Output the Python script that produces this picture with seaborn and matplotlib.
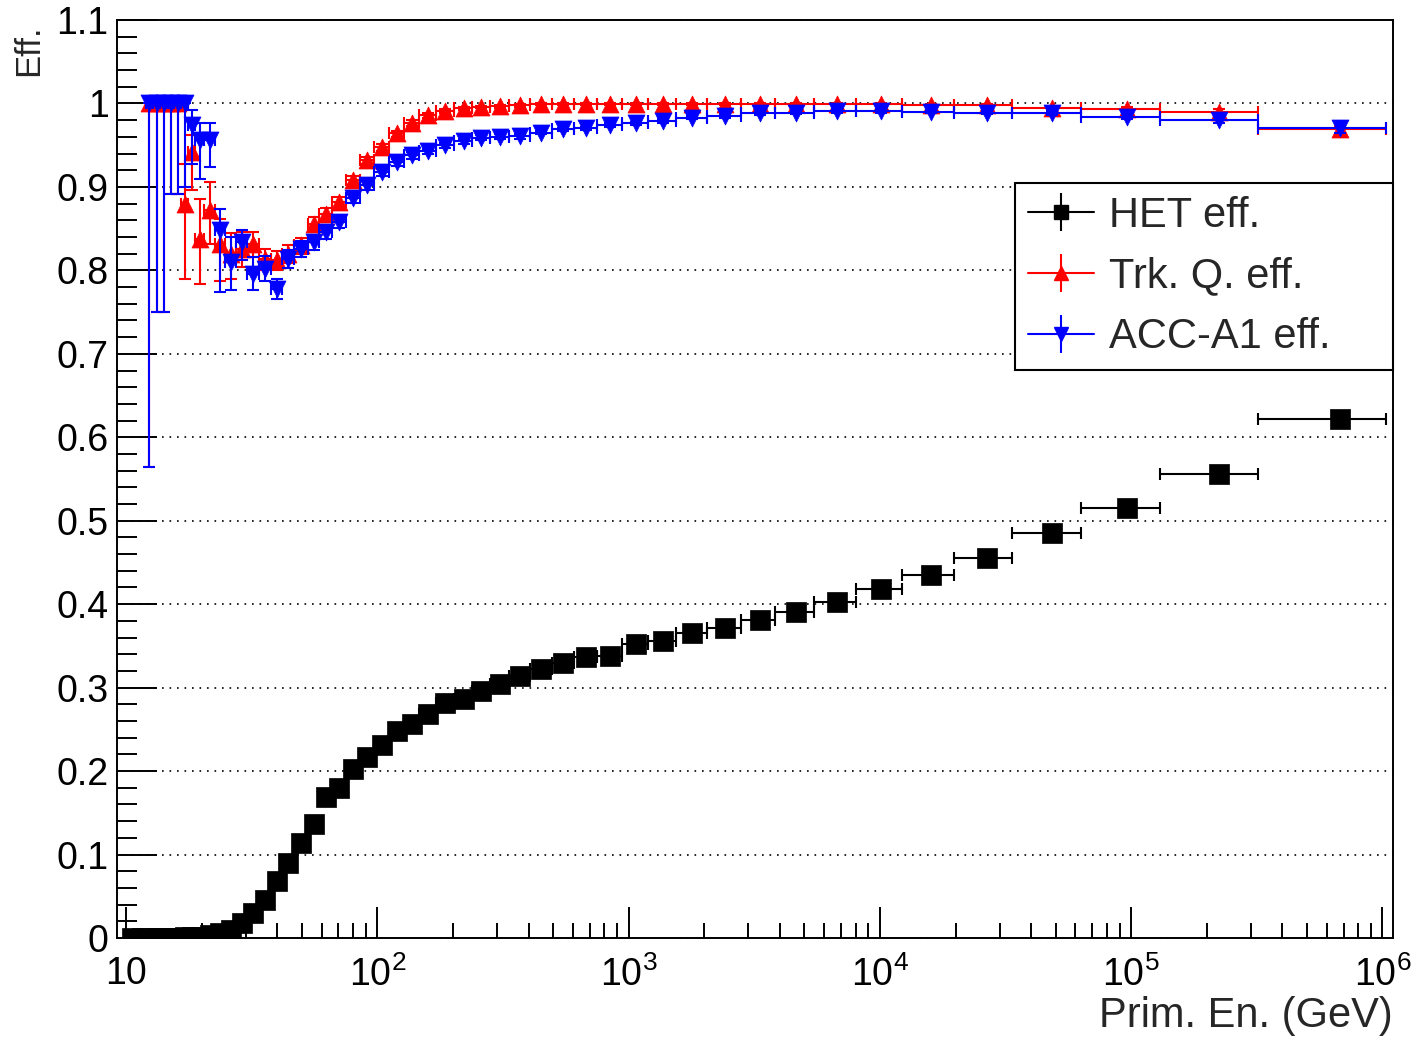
import numpy as np
import pandas as pd
import matplotlib
matplotlib.use("Agg")
import matplotlib.pyplot as plt
import seaborn as sns
from matplotlib.lines import Line2D
from matplotlib.legend_handler import HandlerTuple
from matplotlib.ticker import LogLocator, MultipleLocator, FuncFormatter, NullFormatter

# ---------------------------------------------------------------------------
# Efficiency vs. primary energy (variable-width energy bins, GeV)
# ---------------------------------------------------------------------------
bin_edges = [10.0, 11.2, 12.0, 12.8, 13.7, 14.65, 15.55, 16.55, 17.7, 18.9,
             20.4, 22.6, 24.8, 27.4, 30.4, 33.7, 37.8, 41.9, 46.7, 52.8,
             58.8, 66.0, 75.1, 85.5, 97.2, 111.4, 127.8, 146.7, 171.2, 202.3,
             238.7, 280.9, 333.5, 404, 494, 607, 749, 939, 1198, 1540,
             2050, 2800, 3840, 5470, 8000, 12200, 19700, 33700, 63000, 130000,
             319000, 1030000]

het_eff = [0.0, 0.0, 0.0, 0.0, 0.0, 0.0, 0.0003, 0.0006, 0.001, 0.0016,
           0.0036, 0.0056, 0.0096, 0.0176, 0.030, 0.046, 0.068, 0.090, 0.114, 0.1365,
           0.169, 0.180, 0.202, 0.2164, 0.2308, 0.248, 0.257, 0.269, 0.281, 0.286,
           0.296, 0.304, 0.314, 0.322, 0.330, 0.337, 0.338, 0.3517, 0.3557, 0.3649,
           0.3716, 0.3816, 0.3908, 0.4032, 0.4176, 0.4344, 0.4559, 0.4847, 0.5158, 0.5565,
           0.6224]

nan = np.nan
trk_eff = [nan, nan, 1.0, 1.0, 1.0, 1.0, 1.0, 0.880, 0.942, 0.838,
           0.872, 0.832, 0.820, 0.826, 0.832, 0.814, 0.812, 0.820, 0.830, 0.856,
           0.868, 0.882, 0.908, 0.932, 0.948, 0.964, 0.977, 0.986, 0.991, 0.994,
           0.996, 0.997, 0.998, 0.999, 0.999, 0.999, 0.999, 0.999, 0.999, 0.999,
           0.999, 0.999, 0.999, 0.999, 0.999, 0.998, 0.998, 0.994, 0.9935, 0.990,
           0.969]
trk_err_lo = [0, 0, 0.436, 0.25, 0.25, 0.108, 0.108, 0.090, 0.046, 0.054,
              0.040, 0.045, 0.030, 0.022, 0.016, 0.014, 0.012, 0.011, 0.010, 0.009,
              0.008, 0.007, 0.006, 0.005, 0.005, 0.004, 0.004, 0.003, 0.003, 0.002,
              0.002, 0.002, 0.002, 0.001, 0.001, 0.001, 0.001, 0.001, 0.001, 0.001,
              0.001, 0.001, 0.001, 0.001, 0.001, 0.001, 0.001, 0.002, 0.002, 0.003,
              0.004]
trk_err_hi = [0, 0, 0, 0, 0, 0, 0, 0.048, 0.020, 0.048,
              0.034, 0.030, 0.025, 0.020, 0.014, 0.012, 0.011, 0.010, 0.009, 0.008,
              0.007, 0.006, 0.005, 0.004, 0.004, 0.003, 0.003, 0.002, 0.002, 0.002,
              0.001, 0.001, 0.001, 0.001, 0.001, 0.001, 0.001, 0.001, 0.001, 0.001,
              0.001, 0.001, 0.001, 0.001, 0.001, 0.001, 0.001, 0.002, 0.002, 0.003,
              0.004]

acc_eff = [nan, nan, 1.0, 1.0, 1.0, 1.0, 1.0, 1.0, 0.974, 0.956,
           0.956, 0.848, 0.810, 0.834, 0.796, 0.802, 0.778, 0.814, 0.826, 0.834,
           0.846, 0.858, 0.887, 0.902, 0.918, 0.930, 0.938, 0.943, 0.950, 0.955,
           0.959, 0.960, 0.961, 0.965, 0.969, 0.970, 0.974, 0.976, 0.979, 0.983,
           0.985, 0.988, 0.989, 0.991, 0.991, 0.990, 0.989, 0.988, 0.984, 0.980,
           0.970]
acc_err_lo = [0, 0, 0.436, 0.25, 0.25, 0.108, 0.108, 0.10, 0.046, 0.046,
              0.032, 0.074, 0.034, 0.022, 0.020, 0.015, 0.012, 0.011, 0.010, 0.009,
              0.008, 0.007, 0.006, 0.006, 0.005, 0.005, 0.004, 0.004, 0.003, 0.003,
              0.003, 0.003, 0.003, 0.002, 0.002, 0.002, 0.002, 0.002, 0.002, 0.002,
              0.002, 0.002, 0.002, 0.002, 0.002, 0.002, 0.002, 0.002, 0.003, 0.004,
              0.006]
acc_err_hi = [0, 0, 0, 0, 0, 0, 0, 0, 0.018, 0.020,
              0.020, 0.026, 0.030, 0.014, 0.020, 0.015, 0.012, 0.010, 0.009, 0.008,
              0.007, 0.006, 0.005, 0.005, 0.004, 0.004, 0.004, 0.003, 0.003, 0.003,
              0.003, 0.003, 0.002, 0.002, 0.002, 0.002, 0.002, 0.002, 0.002, 0.002,
              0.002, 0.002, 0.002, 0.002, 0.002, 0.002, 0.002, 0.002, 0.003, 0.004,
              0.006]

series_names = ["HET eff.", "Trk. Q. eff.", "ACC-A1 eff."]
x_title = "Prim. En. (GeV)"
y_title = "Eff."

# ---------------------------------------------------------------------------
sns.set_theme(style="ticks")
plt.rcParams.update({
    "font.family": ["Liberation Sans", "DejaVu Sans"],
    "mathtext.fontset": "custom",
    "mathtext.rm": "Liberation Sans",
    "mathtext.it": "Liberation Sans:italic",
    "mathtext.bf": "Liberation Sans:bold",
    "axes.edgecolor": "black",
    "axes.linewidth": 1.4,
})

edges = np.asarray(bin_edges, dtype=float)
lo_edge, hi_edge = edges[:-1], edges[1:]
centers = 0.5 * (lo_edge + hi_edge)
xerr = np.vstack([centers - lo_edge, hi_edge - centers])

frames = []
for name, vals in zip(series_names, [het_eff, trk_eff, acc_eff]):
    frames.append(pd.DataFrame({"energy": centers, "eff": vals, "series": name}))
df = pd.concat(frames, ignore_index=True)

errs = {
    "HET eff.": (np.zeros(len(centers)), np.zeros(len(centers))),
    "Trk. Q. eff.": (np.asarray(trk_err_lo), np.asarray(trk_err_hi)),
    "ACC-A1 eff.": (np.asarray(acc_err_lo), np.asarray(acc_err_hi)),
}
colors = {"HET eff.": "black", "Trk. Q. eff.": "#ff0000", "ACC-A1 eff.": "#0000ff"}
markers = {"HET eff.": "s", "Trk. Q. eff.": "^", "ACC-A1 eff.": "v"}
msize = {"HET eff.": 195, "Trk. Q. eff.": 150, "ACC-A1 eff.": 150}

W, H = 1414, 1040
fig = plt.figure(figsize=(W / 100, H / 100), dpi=100)
ax = fig.add_axes([117 / W, 1 - 938 / H, (1393 - 117) / W, (938 - 20) / H])

for k, name in enumerate(series_names):
    sub = df[df["series"] == name]
    ok = sub["eff"].notna().to_numpy()
    lo, hi = errs[name]
    ax.errorbar(sub["energy"].to_numpy()[ok], sub["eff"].to_numpy()[ok],
                xerr=xerr[:, ok], yerr=np.vstack([lo, hi])[:, ok],
                fmt="none", ecolor=colors[name], elinewidth=1.5,
                capsize=4, capthick=1.5, zorder=2 + 2 * k)
    sns.scatterplot(data=sub[ok], x="energy", y="eff", ax=ax,
                    marker=markers[name], color=colors[name], s=msize[name],
                    edgecolor=colors[name], linewidth=0.5,
                    legend=False, zorder=3 + 2 * k)

ax.set_xscale("log")
ax.set_xlim(9.21, 1.101e6)
ax.set_ylim(0, 1.1)

# axis ticks
ax.xaxis.set_major_locator(LogLocator(base=10, numticks=12))
ax.xaxis.set_minor_locator(LogLocator(base=10, subs=np.arange(2, 10), numticks=100))
ax.xaxis.set_minor_formatter(NullFormatter())


def xfmt(v, pos):
    e = int(round(np.log10(v)))
    return "10" if e == 1 else r"$\mathregular{10^{%d}}$" % e


ax.xaxis.set_major_formatter(FuncFormatter(xfmt))
ax.yaxis.set_major_locator(MultipleLocator(0.1))
ax.yaxis.set_minor_locator(MultipleLocator(0.02))
ax.yaxis.set_major_formatter(FuncFormatter(lambda v, p: "%g" % round(v, 2)))

ax.tick_params(axis="both", which="both", direction="in", top=False, right=False,
               colors="black", width=1.4, labelsize=27)
ax.tick_params(axis="y", which="major", length=29, pad=6)
ax.tick_params(axis="y", which="minor", length=14.5)
ax.tick_params(axis="x", which="major", length=22, pad=13)
ax.tick_params(axis="x", which="minor", length=11)

ax.yaxis.grid(True, which="major", linestyle=(0, (1, 3.5)), color="black", linewidth=1.2)
ax.xaxis.grid(False)
ax.set_axisbelow(True)
ax.set_xlabel("")
ax.set_ylabel("")
for sp in ax.spines.values():
    sp.set_visible(True)
    sp.set_color("black")
    sp.set_linewidth(1.4)

fig.text(1393 / W, 1 - 1036 / H, x_title, ha="right", va="bottom", fontsize=30)
fig.text(29 / W, 1 - 24 / H, y_title, ha="center", va="top", rotation=90, fontsize=25)

# legend: horizontal bin bar + vertical error bar + marker, overlaid
handles = []
for name in series_names:
    c = colors[name]
    handles.append((
        Line2D([0], [0], color=c, lw=1.5),
        Line2D([0], [0], color=c, marker="|", markersize=27, mew=1.5, linestyle="none"),
        Line2D([0], [0], color=c, marker=markers[name], markersize=10, linestyle="none"),
    ))
leg = ax.legend(handles, series_names, handler_map={tuple: HandlerTuple(ndivide=1)},
                loc="upper left", bbox_to_anchor=(0.7038, 0.6187, 0.2962, 0.2037),
                mode="expand", borderaxespad=0, fontsize=30, handlelength=1.6,
                handletextpad=0.35, labelspacing=0.5, borderpad=0.3,
                fancybox=False, frameon=True, framealpha=1, edgecolor="black")
leg.get_frame().set_linewidth(1.5)
leg.set_zorder(20)

fig.savefig("out.png", dpi=100, facecolor="white")
